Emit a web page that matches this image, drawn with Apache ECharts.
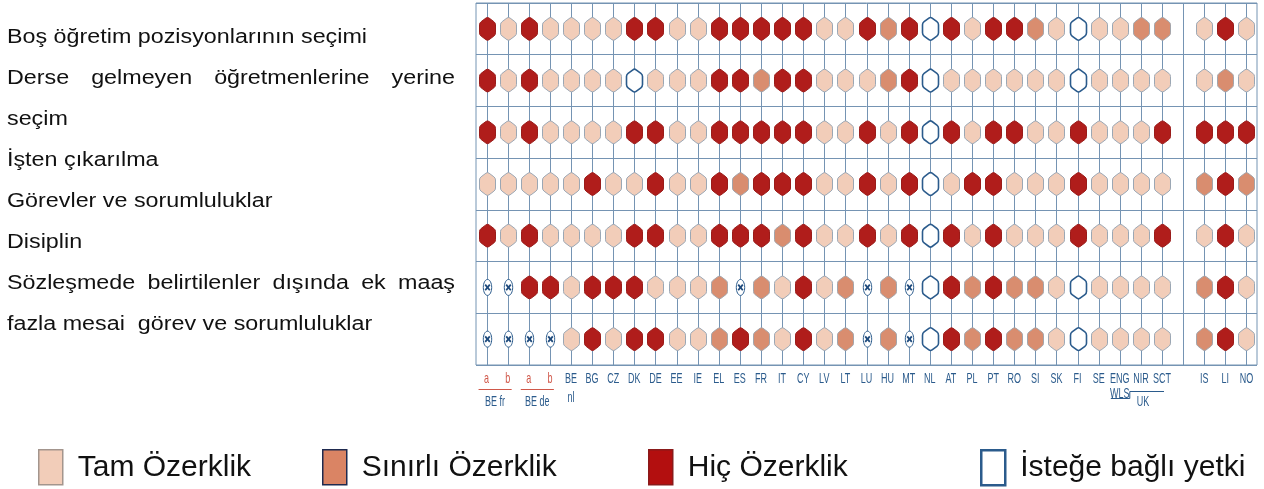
<!DOCTYPE html>
<html><head><meta charset="utf-8">
<script src="https://cdn.jsdelivr.net/npm/echarts@6.0.0/dist/echarts.min.js"></script>
<style>html,body{margin:0;padding:0;background:#fff;}#chart{width:1264px;height:489px;}</style>
</head><body><div id="chart"></div>
<script>
// ---------- DATA ----------
const columns = ['a','b','a','b','BE\nnl','BG','CZ','DK','DE','EE','IE','EL','ES','FR','IT','CY','LV','LT','LU','HU','MT','NL','AT','PL','PT','RO','SI','SK','FI','SE','ENG\nWLS','NIR','SCT','','IS','LI','NO'];
const rowNames = ['Boş öğretim pozisyonlarının seçimi','Derse gelmeyen öğretmenlerine yerine seçim','İşten çıkarılma','Görevler ve sorumluluklar','Disiplin','Sözleşmede belirtilenler dışında ek maaş','fazla mesai görev ve sorumluluklar'];
// T = Tam Özerklik, S = Sınırlı Özerklik, H = Hiç Özerklik, I = İsteğe bağlı yetki, X = uygulanamaz, '' = ayırıcı sütun
const row1 = ['H','T','H','T','T','T','T','H','H','T','T','H','H','H','H','H','T','T','H','S','H','I','H','T','H','H','S','T','I','T','T','S','S','','T','H','T'];
const row2 = ['H','T','H','T','T','T','T','I','T','T','T','H','H','S','H','H','T','T','T','S','H','I','T','T','T','T','T','T','I','T','T','T','T','','T','S','T'];
const row3 = ['H','T','H','T','T','T','T','H','H','T','T','H','H','H','H','H','T','T','H','T','H','I','H','T','H','H','T','T','H','T','T','T','H','','H','H','H'];
const row4 = ['T','T','T','T','T','H','T','T','H','T','T','H','S','H','H','H','T','T','H','T','H','I','T','H','H','T','T','T','H','T','T','T','T','','S','H','S'];
const row5 = ['H','T','H','T','T','T','T','H','H','T','T','H','H','H','S','H','T','T','H','T','H','I','H','T','H','T','T','T','H','T','T','T','H','','T','H','T'];
const row6 = ['X','X','H','H','T','H','H','H','T','T','T','S','X','S','T','H','T','S','X','S','X','I','H','S','H','S','S','T','I','T','T','T','T','','S','H','T'];
const row7 = ['X','X','X','X','T','H','T','H','H','T','T','S','H','S','T','H','T','S','X','S','X','I','H','S','H','S','S','T','I','T','T','T','T','','S','H','T'];
const statusCodes = ['T','S','H','I','X'];
const statusNames = ['Tam Özerklik','Sınırlı Özerklik','Hiç Özerklik','İsteğe bağlı yetki','Uygulanamaz'];
const sideTextLines = ['Boş öğretim pozisyonlarının seçimi','Derse gelmeyen öğretmenlerine yerine','seçim','İşten çıkarılma','Görevler ve sorumluluklar','Disiplin','Sözleşmede belirtilenler dışında ek maaş','fazla mesai  görev ve sorumluluklar'];
const justifiedLines = [1, 6];
const groupLabels = ['BE fr','BE de','UK'];
const groupFirst = [0, 2, 30];
const groupLast = [1, 3, 32];

// ---------- STYLES ----------
const GRID = '#7594b3';
const BLUE = '#2b5b8c';
const RED_TXT = '#d0584a';
const LABEL_FONT = '15px "Liberation Sans", Arial, sans-serif';
const LABEL_SCALE = 0.6;
const hexStyle = {
  T: {fill:'#f2cdb9', stroke:'#9ba7b4', lineWidth:1},
  S: {fill:'#d98d6f', stroke:'#a3a5ab', lineWidth:1},
  H: {fill:'#b01d1b', stroke:'#9a1c1a', lineWidth:1},
  I: {fill:'#ffffff', stroke:'#2b5b8c', lineWidth:1.6}
};
const legendStyle = {
  T: {color:'#f2cdb9', borderColor:'#a3958d', borderWidth:1.5},
  S: {color:'#da8464', borderColor:'#1f2a4f', borderWidth:1.5},
  H: {color:'#b30f0f', borderColor:'#8a1a1a', borderWidth:1.5},
  I: {color:'#ffffff', borderColor:'#2b5b8c', borderWidth:2.5}
};
const legendLeft = [33, 317, 643, 975];

const rows = [row1,row2,row3,row4,row5,row6,row7];

function roundedPoly(pts, r){
  let d = '';
  const n = pts.length;
  for (let i = 0; i < n; i++){
    const p0 = pts[(i-1+n)%n], p1 = pts[i], p2 = pts[(i+1)%n];
    const l1 = Math.hypot(p0[0]-p1[0], p0[1]-p1[1]);
    const l2 = Math.hypot(p2[0]-p1[0], p2[1]-p1[1]);
    const a = [p1[0]+(p0[0]-p1[0])/l1*r, p1[1]+(p0[1]-p1[1])/l1*r];
    const b = [p1[0]+(p2[0]-p1[0])/l2*r, p1[1]+(p2[1]-p1[1])/l2*r];
    d += (i===0?'M':'L') + a[0].toFixed(2)+' '+a[1].toFixed(2) + 'Q' + p1[0].toFixed(2)+' '+p1[1].toFixed(2)+' '+b[0].toFixed(2)+' '+b[1].toFixed(2);
  }
  return d + 'Z';
}
function hexPath(cx, cy){
  const w = 8, h = 12, a = 6;
  return roundedPoly([[cx,cy-h],[cx+w,cy-h+a],[cx+w,cy+h-a],[cx,cy+h],[cx-w,cy+h-a],[cx-w,cy-h+a]], 2);
}

function cellsFor(code){
  const out = [];
  rows.forEach((r, ri) => r.forEach((v, ci) => { if (v === code) out.push([ci, ri]); }));
  return out;
}

const series = [];
// vertical lines through column centres
series.push({
  type:'custom', name:'vlines', silent:true, z:1,
  data: columns.map((c,i)=>[i,0]),
  encode:{x:0,y:1},
  renderItem(params, api){
    const x = Math.round(api.coord([api.value(0), 0])[0]) + 0.5;
    const cs = params.coordSys;
    return {type:'line', shape:{x1:x, y1:cs.y, x2:x, y2:cs.y+cs.height}, style:{stroke:GRID, lineWidth:1}};
  }
});
statusCodes.forEach((code, k) => {
  series.push({
    type:'custom', name:statusNames[k], z:3,
    itemStyle: code==='X' ? {color:'#fff'} : legendStyle[code],
    data: cellsFor(code),
    encode:{x:0,y:1},
    renderItem(params, api){
      const p = api.coord([api.value(0), api.value(1)]);
      const cx = Math.round(p[0]) + 0.5, cy = p[1];
      if (code === 'X'){
        return {type:'group', children:[
          {type:'ellipse', shape:{cx:cx, cy:cy, rx:4.2, ry:8}, style:{fill:'#fff', stroke:BLUE, lineWidth:1}},
          {type:'line', shape:{x1:cx-2.3, y1:cy-2.8, x2:cx+2.3, y2:cy+2.8}, style:{stroke:'#1e4a7c', lineWidth:1.8}},
          {type:'line', shape:{x1:cx+2.3, y1:cy-2.8, x2:cx-2.3, y2:cy+2.8}, style:{stroke:'#1e4a7c', lineWidth:1.8}}
        ]};
      }
      const st = hexStyle[code];
      return {type:'path', shape:{pathData: hexPath(cx, cy)}, style:{fill:st.fill, stroke:st.stroke, lineWidth:st.lineWidth}};
    }
  });
});
// column labels
series.push({
  type:'custom', name:'labels', silent:true, z:4,
  data: columns.map((c,i)=>[i,0]),
  encode:{x:0,y:1},
  renderItem(params, api){
    const i = params.dataIndex;
    const x = api.coord([api.value(0), 0])[0];
    const cs = params.coordSys;
    const isAB = (columns[i] === 'a' || columns[i] === 'b');
    const lh = columns[i].indexOf('WLS') >= 0 ? 15 : 19;
    return {type:'text', x:x, y:cs.y+cs.height+4+(19-lh)/2, scaleX:LABEL_SCALE,
      style:{text:columns[i], fill: isAB ? RED_TXT : BLUE, font:LABEL_FONT, align:'center', verticalAlign:'top', lineHeight:lh}};
  }
});
// group labels (BE fr, BE de, UK)
series.push({
  type:'custom', name:'groups', silent:true, z:4,
  data: groupLabels.map((g,i)=>[groupFirst[i], groupLast[i]]),
  encode:{x:[0,1]},
  renderItem(params, api){
    const i = params.dataIndex;
    const x0 = api.coord([api.value(0), 0])[0];
    const x1 = api.coord([api.value(1), 0])[0];
    const bottom = params.coordSys.y + params.coordSys.height;
    if (groupLabels[i] === 'UK'){
      const xm = api.coord([api.value(0)+1, 0])[0];
      const step = x0 + 10;
      return {type:'group', children:[
        {type:'polyline', shape:{points:[[x0-9, bottom+33.5],[step, bottom+33.5],[step, bottom+26.5],[x1+2, bottom+26.5]]}, style:{stroke:BLUE, lineWidth:1, fill:null}},
        {type:'text', x:xm+2, y:bottom+29, scaleX:LABEL_SCALE, style:{text:groupLabels[i], fill:BLUE, font:LABEL_FONT, align:'center', verticalAlign:'top'}}
      ]};
    }
    return {type:'group', children:[
      {type:'line', shape:{x1:x0-8, y1:bottom+24.5, x2:x1+4, y2:bottom+24.5}, style:{stroke:RED_TXT, lineWidth:1}},
      {type:'text', x:(x0+x1)/2-2, y:bottom+29, scaleX:LABEL_SCALE, style:{text:groupLabels[i], fill:BLUE, font:LABEL_FONT, align:'center', verticalAlign:'top'}}
    ]};
  }
});

// side text (left block)
const SIDE_FONT_SIZE = 20;
const sideFont = SIDE_FONT_SIZE + 'px "Liberation Sans", Arial, sans-serif';
const ctx = document.createElement('canvas').getContext('2d');
ctx.font = sideFont;
const sideScale = 360 / ctx.measureText(sideTextLines[0]).width;
const graphics = [];
sideTextLines.forEach((line, li) => {
  const y = 37 + 41 * li;
  if (justifiedLines.indexOf(li) >= 0){
    const words = line.split(/\s+/);
    const widths = words.map(w => ctx.measureText(w).width * sideScale);
    const total = widths.reduce((s,v)=>s+v,0);
    const gap = (448 - total) / (words.length - 1);
    let x = 7;
    words.forEach((w, wi) => {
      graphics.push({type:'text', x:x, y:y, scaleX:sideScale, style:{text:w, font:sideFont, fill:'#111', verticalAlign:'middle', align:'left'}});
      x += widths[wi] + gap;
    });
  } else {
    graphics.push({type:'text', x:7, y:y, scaleX:sideScale, style:{text:line, font:sideFont, fill:'#111', verticalAlign:'middle', align:'left'}});
  }
});

const legends = statusCodes.slice(0,4).map((code, k) => ({
  left: legendLeft[k], top: 444, orient:'horizontal', selectedMode:false,
  icon:'rect', itemWidth:24, itemHeight:35,
  textStyle:{fontSize:30, fontFamily:'"Liberation Sans", Arial, sans-serif', color:'#111', padding:[0,0,0,10]},
  data:[{name: statusNames[k], itemStyle: legendStyle[code]}]
}));

const chart = echarts.init(document.getElementById('chart'));
chart.setOption({
  animation:false,
  grid:{left:476, top:3, width:781, height:362, show:true, borderColor:GRID, borderWidth:1, backgroundColor:'transparent'},
  xAxis:{type:'category', data:columns, boundaryGap:true, axisLine:{show:false}, axisTick:{show:false}, axisLabel:{show:false}, splitLine:{show:false}},
  yAxis:{type:'category', data:rowNames, inverse:true, boundaryGap:true, axisLine:{show:false}, axisTick:{show:false}, axisLabel:{show:false, interval:0},
    splitLine:{show:true, interval:0, lineStyle:{color:GRID, width:1}}},
  legend: legends,
  graphic: graphics,
  series: series
});
</script>
</body></html>
